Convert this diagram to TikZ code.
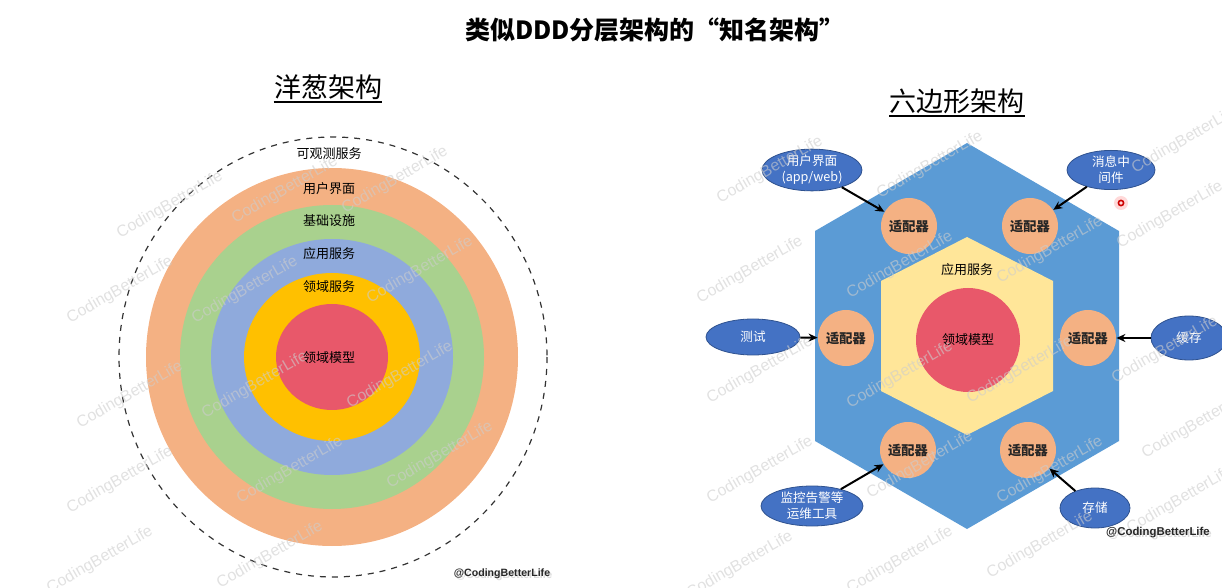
\documentclass[tikz,border=0pt]{standalone}
\usepackage{fontspec}
\setmainfont{Noto Sans CJK SC}
\newfontfamily\wmfont{Liberation Sans}
\usetikzlibrary{shapes.geometric,arrows.meta}
\definecolor{onionOrange}{RGB}{244,177,131}
\definecolor{onionGreen}{RGB}{169,209,142}
\definecolor{onionBlue}{RGB}{143,170,220}
\definecolor{onionYellow}{RGB}{255,192,0}
\definecolor{onionRed}{RGB}{232,88,106}
\definecolor{hexBlue}{RGB}{91,155,213}
\definecolor{hexYellow}{RGB}{255,230,153}
\definecolor{ellBlue}{RGB}{68,114,196}
\definecolor{ellBorder}{RGB}{47,82,143}
\definecolor{wmGray}{RGB}{205,205,205}
\tikzset{
  lbl/.style={font=\fontsize{6.5}{7.5}\selectfont, text=black, inner sep=0},
  adapter/.style={circle, fill=onionOrange, minimum size=28pt, inner sep=0,
    font=\bfseries\fontsize{6.6}{7.5}\selectfont, text=black!85},
  ext/.style={ellipse, fill=ellBlue, draw=ellBorder, line width=0.4pt, inner sep=0,
    font=\fontsize{6.3}{8}\selectfont, text=white, align=center},
  arr/.style={-{Stealth[length=4.5pt,width=4pt]}, line width=1pt, black},
  subtitle/.style={font=\fontsize{13.5}{15}\selectfont, inner sep=0},
  wm/.style={font=\wmfont\fontsize{8}{9}\selectfont, text=wmGray, opacity=0.6, rotate=30},
  sig/.style={font=\wmfont\bfseries\fontsize{5.3}{6}\selectfont, text=black!85}
}
\begin{document}
\begin{tikzpicture}[x=0.5pt,y=-0.5pt]
\useasboundingbox (0,0) rectangle (1222,588);
\begin{scope}
\clip (0,0) rectangle (1222,588);
% title
\node[font=\bfseries\fontsize{12.5}{14}\selectfont] (title) at (655,30) {类似DDD分层架构的“知名架构”};
% onion
\node[subtitle] (t1) at (328,87) {洋葱架构};
\draw[line width=1pt] ([yshift=-2.5pt]t1.base west) -- ([yshift=-2.5pt]t1.base east);
\draw[dashed, line width=0.6pt, black!80] (333,357) ellipse [x radius=214, y radius=220];
\fill[onionOrange] (332,357) ellipse [x radius=186, y radius=189];
\fill[onionGreen] (332,357) ellipse [x radius=152, y radius=152];
\fill[onionBlue] (332,357) ellipse [x radius=121, y radius=118];
\fill[onionYellow] (332,357) ellipse [x radius=88, y radius=84];
\fill[onionRed] (332,357) ellipse [x radius=56, y radius=53];
% hexagonal shapes
\fill[hexBlue] (967,143) -- (1119,231) -- (1119,441) -- (967,529) -- (815,441) -- (815,231) -- cycle;
\fill[hexYellow] (967,237) -- (1053,281) -- (1053,391) -- (967,435) -- (881,391) -- (881,281) -- cycle;
\fill[onionRed] (968,340) circle [radius=52];
\node[adapter] (a1) at (909,226) {适配器};
\node[adapter] (a2) at (1030,226) {适配器};
\node[adapter] (a3) at (846,338) {适配器};
\node[adapter] (a4) at (1088,338) {适配器};
\node[adapter] (a5) at (908,450) {适配器};
\node[adapter] (a6) at (1028,450) {适配器};
\node[ext, minimum width=50pt, minimum height=20pt] (ue) at (812,170) {用户界面\\(app/web)};
\node[ext, minimum width=44pt, minimum height=18.5pt] (mq) at (1111,170) {消息中\\间件};
\node[ext, minimum width=47pt, minimum height=18pt] (test) at (753,337) {测试};
\node[ext, minimum width=38pt, minimum height=22pt] (cache) at (1189,338) {缓存};
\node[ext, minimum width=51pt, minimum height=20pt] (mon) at (812,506) {监控告警等\\运维工具};
\node[ext, minimum width=35pt, minimum height=20pt] (store) at (1095,508) {存储};
% watermarks
\foreach \x/\y in {170/205, 285/190, 395/180, 120/290, 245/290, 420/270,
  130/395, 255/385, 400/375, 120/480, 290/470, 440/455, 100/560, 270/555,
  770/170, 930/165, 1185/140, 750/270, 900/265, 1050/250, 1170/215,
  760/370, 900/375, 1020/370, 1165/350, 760/470, 920/465, 1050/470, 1195/425,
  740/565, 900/560, 1040/545, 1180/500}
  {\node[wm] at (\x,\y) {CodingBetterLife};}
% labels on top
\node[lbl] (o0) at (329,154) {可观测服务};
\node[lbl] (o1) at (329,189) {用户界面};
\node[lbl] (o2) at (329,221) {基础设施};
\node[lbl] (o3) at (329,254) {应用服务};
\node[lbl] (o4) at (329,287) {领域服务};
\node[lbl] (o5) at (329,358) {领域模型};
\node[subtitle] (t2) at (957,101) {六边形架构};
\draw[line width=1pt] ([yshift=-2.5pt]t2.base west) -- ([yshift=-2.5pt]t2.base east);
\node[lbl] (app) at (967,270) {应用服务};
\node[lbl] (dm) at (968,340) {领域模型};
\draw[arr] (ue) -- (a1);
\draw[arr] (mq) -- (a2);
\draw[arr] (test) -- (a3);
\draw[arr] (cache) -- (a4);
\draw[arr] (mon) -- (a5);
\draw[arr] (store) -- (a6);
% cursor dot
\fill[red!25, opacity=0.6] (1121,203) circle [radius=7];
\draw[red!80!black, line width=0.8pt] (1121,203) circle [radius=2.6];
% signatures
\node[sig, text=black!20, opacity=0.7] at (504,576) {@CodingBetterLife};
\node[sig] (s1) at (502,574) {@CodingBetterLife};
\node[sig, text=black!20, opacity=0.7, font=\wmfont\bfseries\fontsize{5.7}{6.5}\selectfont] at (1160,535) {@CodingBetterLife};
\node[sig, font=\wmfont\bfseries\fontsize{5.7}{6.5}\selectfont] (s2) at (1158,533) {@CodingBetterLife};
\end{scope}
\end{tikzpicture}
\end{document}
